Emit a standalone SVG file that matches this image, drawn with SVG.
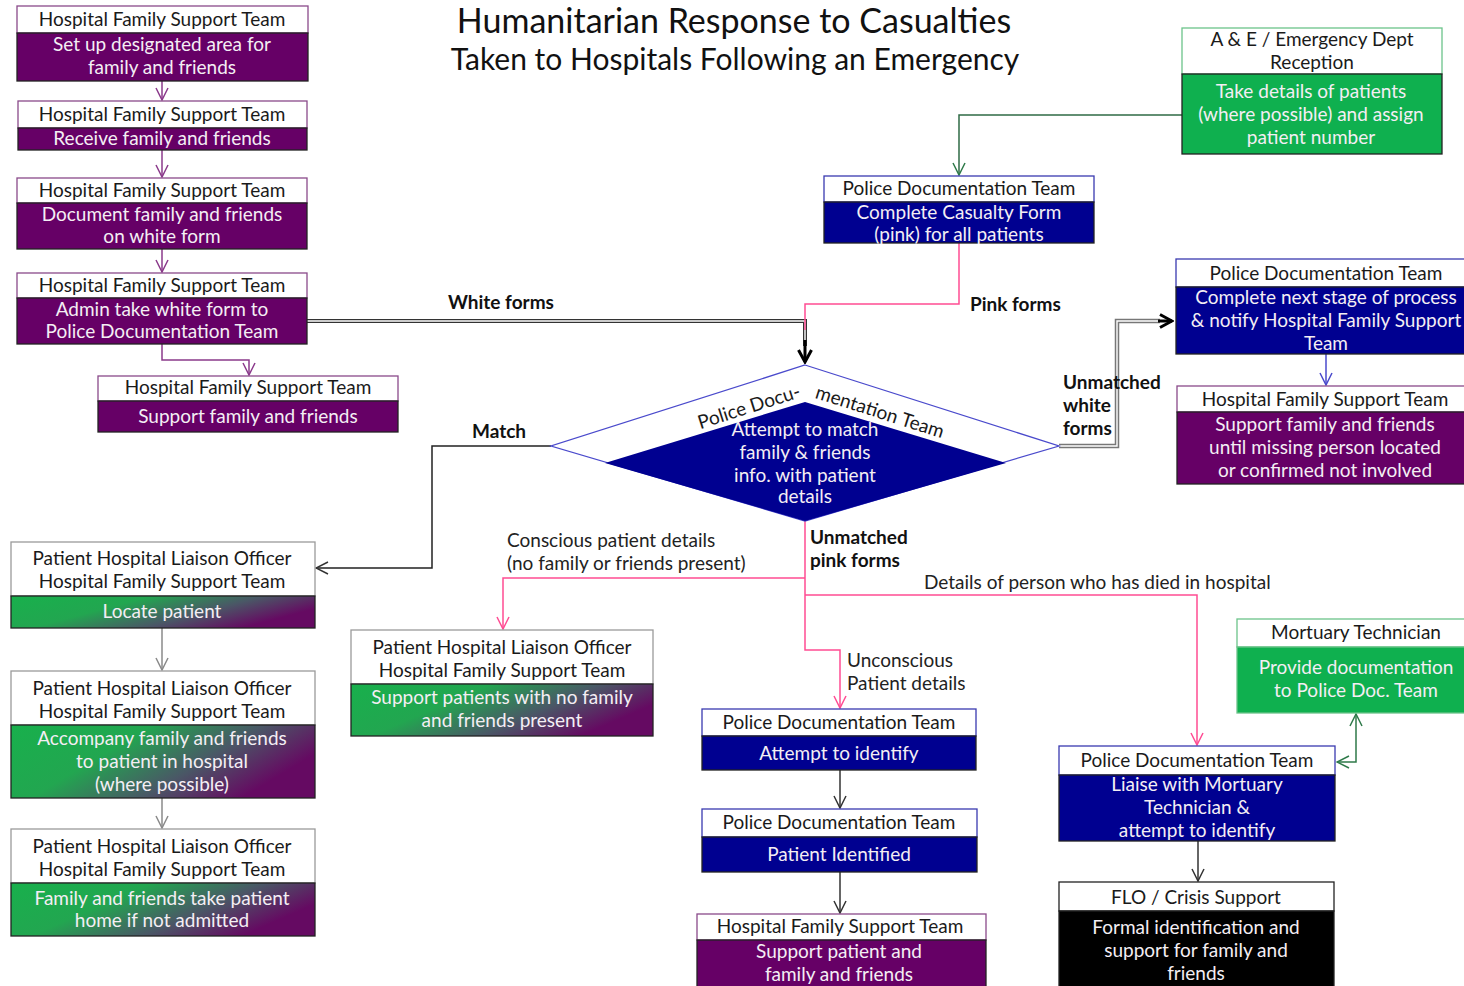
<svg xmlns="http://www.w3.org/2000/svg" width="1464" height="986" viewBox="0 0 1464 986">
  <style>
    text { font-family: Lato, "Liberation Sans", sans-serif; }
    .title { font-size: 34px; fill: #111; text-anchor: middle; }
    .sub { font-size: 30px; fill: #111; text-anchor: middle; }
    .hd { font-size: 19px; fill: #1a1a1a; text-anchor: middle; }
    .bd { font-size: 19px; fill: #f4eef4; text-anchor: middle; }
    .lbl { font-size: 19px; fill: #111; font-weight: bold; }
    .note { font-size: 19px; fill: #222; }
    .hbox { fill: #fff; stroke-width: 1.3; }
    .bbox { stroke: #222; stroke-width: 1.3; }
    .purple { fill: #660066; }
    .navy { fill: #000090; }
    .green { fill: #0fb04f; }
    .black { fill: #000; }
    .grad { fill: url(#gp); }
    .hp { stroke: #8a4a8a; }
    .hb { stroke: #3a3ab0; }
    .hg { stroke: #6cc48a; }
    .hgr { stroke: #9a9a9a; }
    .hk { stroke: #222; }
    .ln { fill: none; stroke-width: 1.5; }
  </style>
  <defs>
    <linearGradient id="gp" x1="0" y1="0" x2="1" y2="0.4">
      <stop offset="0" stop-color="#18b04c"/>
      <stop offset="0.4" stop-color="#22a650"/>
      <stop offset="0.72" stop-color="#4a5766"/>
      <stop offset="1" stop-color="#650a62"/>
    </linearGradient>
    <marker id="aPur" viewBox="0 0 14 14" refX="13" refY="7" markerWidth="14" markerHeight="14" markerUnits="userSpaceOnUse" orient="auto">
      <path d="M1,1 L13,7 L1,13" fill="none" stroke="#8b3a8b" stroke-width="1.5"/>
    </marker>
    <marker id="aPink" viewBox="0 0 14 14" refX="13" refY="7" markerWidth="14" markerHeight="14" markerUnits="userSpaceOnUse" orient="auto">
      <path d="M1,1 L13,7 L1,13" fill="none" stroke="#ff4c93" stroke-width="1.5"/>
    </marker>
    <marker id="aGray" viewBox="0 0 14 14" refX="13" refY="7" markerWidth="14" markerHeight="14" markerUnits="userSpaceOnUse" orient="auto">
      <path d="M1,1 L13,7 L1,13" fill="none" stroke="#8a8a8a" stroke-width="1.5"/>
    </marker>
    <marker id="aDark" viewBox="0 0 14 14" refX="13" refY="7" markerWidth="14" markerHeight="14" markerUnits="userSpaceOnUse" orient="auto">
      <path d="M1,1 L13,7 L1,13" fill="none" stroke="#333" stroke-width="1.5"/>
    </marker>
    <marker id="aBlue" viewBox="0 0 14 14" refX="13" refY="7" markerWidth="14" markerHeight="14" markerUnits="userSpaceOnUse" orient="auto">
      <path d="M1,1 L13,7 L1,13" fill="none" stroke="#4a4acc" stroke-width="1.5"/>
    </marker>
    <marker id="aGreen" viewBox="0 0 14 14" refX="13" refY="7" markerWidth="14" markerHeight="14" markerUnits="userSpaceOnUse" orient="auto-start-reverse">
      <path d="M1,1 L13,7 L1,13" fill="none" stroke="#2f7a4a" stroke-width="1.5"/>
    </marker>
    <marker id="aBold" viewBox="0 0 16 16" refX="14" refY="8" markerWidth="16" markerHeight="16" markerUnits="userSpaceOnUse" orient="auto">
      <path d="M2,1.5 L14,8 L2,14.5" fill="none" stroke="#000" stroke-width="3"/>
    </marker>
  </defs>

  <rect width="1464" height="986" fill="#fff"/>

  <!-- heading -->
  <text class="title" x="734" y="33">Humanitarian Response to Casualties</text>
  <text class="sub" x="735" y="70">Taken to Hospitals Following an Emergency</text>

  <!-- connectors -->
  <g id="connectors">
    <!-- left purple chain -->
    <path class="ln" stroke="#8b3a8b" d="M162,81 V100" marker-end="url(#aPur)"/>
    <path class="ln" stroke="#8b3a8b" d="M162,150 V177" marker-end="url(#aPur)"/>
    <path class="ln" stroke="#8b3a8b" d="M162,249 V272" marker-end="url(#aPur)"/>
    <path class="ln" stroke="#8b3a8b" d="M162,344 V360 H249 V375" marker-end="url(#aPur)"/>

    <!-- white forms (double line) -->
    <path fill="none" stroke="#333" stroke-width="4" d="M307,321 H805 V346"/>
    <path fill="none" stroke="#fff" stroke-width="1.4" d="M307,321 H805 V346"/>
    <!-- pink forms -->
    <path class="ln" stroke="#ff4c93" d="M959,243 V304 H805 V330"/>
    <path fill="none" stroke="#000" stroke-width="3" d="M805,340 V362" marker-end="url(#aBold)"/>

    <!-- A&E to police doc -->
    <path class="ln" stroke="#2f6b45" d="M1182,115 H959 V175" marker-end="url(#aGreen)"/>

    <!-- unmatched white forms (double line) -->
    <path fill="none" stroke="#777" stroke-width="4.5" d="M1059,446 H1117 V321 H1160"/>
    <path fill="none" stroke="#fff" stroke-width="1.4" d="M1059,446 H1117 V321 H1160"/>
    <path fill="none" stroke="#000" stroke-width="3" d="M1158,321 H1172" marker-end="url(#aBold)"/>

    <!-- police doc to HFST right -->
    <path class="ln" stroke="#4a4acc" d="M1326,354 V385" marker-end="url(#aBlue)"/>

    <!-- match -->
    <path class="ln" stroke="#222" d="M551,446 H432 V568 H316" marker-end="url(#aDark)"/>

    <!-- grey chain on the left -->
    <path class="ln" stroke="#8a8a8a" d="M162,628 V670" marker-end="url(#aGray)"/>
    <path class="ln" stroke="#8a8a8a" d="M162,798 V828" marker-end="url(#aGray)"/>

    <!-- unmatched pink forms -->
    <path class="ln" stroke="#ff4c93" d="M805,521 V650 H840 V708" marker-end="url(#aPink)"/>
    <path class="ln" stroke="#ff4c93" d="M805,578 H503 V629" marker-end="url(#aPink)"/>
    <path class="ln" stroke="#ff4c93" d="M805,595 H1197 V745" marker-end="url(#aPink)"/>

    <!-- identify chain -->
    <path class="ln" stroke="#333" d="M840,770 V808" marker-end="url(#aDark)"/>
    <path class="ln" stroke="#333" d="M840,872 V913" marker-end="url(#aDark)"/>

    <!-- mortuary exchange -->
    <path class="ln" stroke="#2f7a4a" d="M1337,762 H1356 V714" marker-start="url(#aGreen)" marker-end="url(#aGreen)"/>
    <path class="ln" stroke="#333" d="M1198,841 V881" marker-end="url(#aDark)"/>
  </g>

  <!-- connector labels -->
  <g id="labels">
    <text class="lbl" x="448" y="309">White forms</text>
    <text class="lbl" x="970" y="311">Pink forms</text>
    <text class="lbl" x="472" y="438">Match</text>
    <text class="lbl" x="1063" y="389">Unmatched</text>
    <text class="lbl" x="1063" y="412">white</text>
    <text class="lbl" x="1063" y="435">forms</text>
    <text class="lbl" x="810" y="544">Unmatched</text>
    <text class="lbl" x="810" y="567">pink forms</text>
    <text class="note" x="507" y="547">Conscious patient details</text>
    <text class="note" x="507" y="570">(no family or friends present)</text>
    <text class="note" x="924" y="589">Details of person who has died in  hospital</text>
    <text class="note" x="847" y="667">Unconscious</text>
    <text class="note" x="847" y="690">Patient details</text>
  </g>

  <!-- left column: Hospital Family Support Team -->
  <g id="hfst-setup">
    <rect class="hbox hp" x="17" y="6" width="291" height="27"/>
    <rect class="bbox purple" x="17" y="33" width="291" height="48"/>
    <text class="hd" x="162" y="26">Hospital Family Support Team</text>
    <text class="bd" x="162" y="51">Set up designated area for</text>
    <text class="bd" x="162" y="74">family and friends</text>
  </g>
  <g id="hfst-receive">
    <rect class="hbox hp" x="18" y="101" width="289" height="27"/>
    <rect class="bbox purple" x="18" y="128" width="289" height="22"/>
    <text class="hd" x="162" y="121">Hospital Family Support Team</text>
    <text class="bd" x="162" y="145">Receive family and friends</text>
  </g>
  <g id="hfst-document">
    <rect class="hbox hp" x="17" y="178" width="290" height="25"/>
    <rect class="bbox purple" x="17" y="203" width="290" height="46"/>
    <text class="hd" x="162" y="197">Hospital Family Support Team</text>
    <text class="bd" x="162" y="221">Document family and friends</text>
    <text class="bd" x="162" y="243">on white form</text>
  </g>
  <g id="hfst-admin">
    <rect class="hbox hp" x="17" y="273" width="290" height="25"/>
    <rect class="bbox purple" x="17" y="298" width="290" height="46"/>
    <text class="hd" x="162" y="292">Hospital Family Support Team</text>
    <text class="bd" x="162" y="316">Admin take white form to</text>
    <text class="bd" x="162" y="338">Police Documentation Team</text>
  </g>
  <g id="hfst-support">
    <rect class="hbox hp" x="98" y="376" width="300" height="25"/>
    <rect class="bbox purple" x="98" y="401" width="300" height="31"/>
    <text class="hd" x="248" y="394">Hospital Family Support Team</text>
    <text class="bd" x="248" y="423">Support family and friends</text>
  </g>

  <!-- top centre / right -->
  <g id="police-casualty">
    <rect class="hbox hb" x="824" y="176" width="270" height="26"/>
    <rect class="bbox navy" x="824" y="202" width="270" height="41"/>
    <text class="hd" x="959" y="195">Police Documentation Team</text>
    <text class="bd" x="959" y="219">Complete Casualty Form</text>
    <text class="bd" x="959" y="241">(pink)  for all patients</text>
  </g>
  <g id="ae-reception">
    <rect class="hbox hg" x="1182" y="28" width="260" height="46"/>
    <rect class="bbox green" x="1182" y="74" width="260" height="80"/>
    <text class="hd" x="1312" y="46">A &amp; E / Emergency Dept</text>
    <text class="hd" x="1312" y="69">Reception</text>
    <text class="bd" x="1311" y="98">Take details of patients</text>
    <text class="bd" x="1311" y="121">(where possible) and assign</text>
    <text class="bd" x="1311" y="144">patient number</text>
  </g>

  <!-- decision -->
  <g id="police-match">
    <polygon points="805,365 1059,446 805,521 551,446" fill="#fff" stroke="#4a4acc" stroke-width="1.3"/>
    <polygon points="805,402 1006,463 805,521 605,463" fill="#000090"/>
    <text class="hd" transform="translate(751,413) rotate(-17.7)">Police Docu-</text>
    <text class="hd" transform="translate(878,418) rotate(17.7)">mentation Team</text>
    <text class="bd" x="805" y="436">Attempt to match</text>
    <text class="bd" x="805" y="459">family &amp; friends</text>
    <text class="bd" x="805" y="482">info. with patient</text>
    <text class="bd" x="805" y="503">details</text>
  </g>

  <!-- right side -->
  <g id="police-next-stage">
    <rect class="hbox hb" x="1176" y="259" width="292" height="28"/>
    <rect class="bbox navy" x="1176" y="287" width="292" height="67"/>
    <text class="hd" x="1326" y="280">Police Documentation Team</text>
    <text class="bd" x="1326" y="304">Complete next stage of process</text>
    <text class="bd" x="1326" y="327">&amp; notify Hospital Family Support</text>
    <text class="bd" x="1326" y="350">Team</text>
  </g>
  <g id="hfst-missing">
    <rect class="hbox hp" x="1177" y="386" width="291" height="26"/>
    <rect class="bbox purple" x="1177" y="412" width="291" height="72"/>
    <text class="hd" x="1325" y="406">Hospital Family Support Team</text>
    <text class="bd" x="1325" y="431">Support family and friends</text>
    <text class="bd" x="1325" y="454">until missing person located</text>
    <text class="bd" x="1325" y="477">or confirmed not involved</text>
  </g>

  <!-- left liaison column -->
  <g id="liaison-locate">
    <rect class="hbox hgr" x="11" y="542" width="304" height="54"/>
    <rect class="bbox grad" x="11" y="596" width="304" height="32"/>
    <text class="hd" x="162" y="565">Patient Hospital Liaison  Officer</text>
    <text class="hd" x="162" y="588">Hospital Family Support Team</text>
    <text class="bd" x="162" y="618">Locate patient</text>
  </g>
  <g id="liaison-accompany">
    <rect class="hbox hgr" x="11" y="671" width="304" height="54"/>
    <rect class="bbox grad" x="11" y="725" width="304" height="73"/>
    <text class="hd" x="162" y="695">Patient Hospital Liaison  Officer</text>
    <text class="hd" x="162" y="718">Hospital Family Support Team</text>
    <text class="bd" x="162" y="745">Accompany family and friends</text>
    <text class="bd" x="162" y="768">to patient in hospital</text>
    <text class="bd" x="162" y="791">(where possible)</text>
  </g>
  <g id="liaison-home">
    <rect class="hbox hgr" x="11" y="829" width="304" height="54"/>
    <rect class="bbox grad" x="11" y="883" width="304" height="53"/>
    <text class="hd" x="162" y="853">Patient Hospital Liaison  Officer</text>
    <text class="hd" x="162" y="876">Hospital Family Support Team</text>
    <text class="bd" x="162" y="905">Family and friends take patient</text>
    <text class="bd" x="162" y="927">home if not admitted</text>
  </g>
  <g id="liaison-no-family">
    <rect class="hbox hgr" x="351" y="630" width="302" height="54"/>
    <rect class="bbox grad" x="351" y="684" width="302" height="52"/>
    <text class="hd" x="502" y="654">Patient Hospital Liaison  Officer</text>
    <text class="hd" x="502" y="677">Hospital Family Support Team</text>
    <text class="bd" x="502" y="704">Support patients with no family</text>
    <text class="bd" x="502" y="727">and friends present</text>
  </g>

  <!-- bottom centre -->
  <g id="police-identify">
    <rect class="hbox hb" x="702" y="709" width="274" height="27"/>
    <rect class="bbox navy" x="702" y="736" width="274" height="34"/>
    <text class="hd" x="839" y="729">Police Documentation Team</text>
    <text class="bd" x="839" y="760">Attempt to identify</text>
  </g>
  <g id="police-identified">
    <rect class="hbox hb" x="702" y="809" width="275" height="28"/>
    <rect class="bbox navy" x="702" y="837" width="275" height="35"/>
    <text class="hd" x="839" y="829">Police Documentation Team</text>
    <text class="bd" x="839" y="861">Patient Identified</text>
  </g>
  <g id="hfst-patient">
    <rect class="hbox hp" x="697" y="914" width="289" height="26"/>
    <rect class="bbox purple" x="697" y="940" width="289" height="50"/>
    <text class="hd" x="840" y="933">Hospital Family Support Team</text>
    <text class="bd" x="839" y="958">Support  patient and</text>
    <text class="bd" x="839" y="981">family and friends</text>
  </g>

  <!-- bottom right -->
  <g id="mortuary">
    <rect class="hbox hg" x="1237" y="619" width="231" height="28"/>
    <rect class="green" x="1237" y="647" width="231" height="66" stroke="#6cc48a" stroke-width="1.3"/>
    <text class="hd" x="1356" y="639">Mortuary Technician</text>
    <text class="bd" x="1356" y="674">Provide documentation</text>
    <text class="bd" x="1356" y="697">to Police Doc. Team</text>
  </g>
  <g id="police-mortuary">
    <rect class="hbox hb" x="1059" y="746" width="276" height="29"/>
    <rect class="bbox navy" x="1059" y="775" width="276" height="66"/>
    <text class="hd" x="1197" y="767">Police Documentation Team</text>
    <text class="bd" x="1197" y="791">Liaise with Mortuary</text>
    <text class="bd" x="1197" y="814">Technician &amp;</text>
    <text class="bd" x="1197" y="837">attempt to identify</text>
  </g>
  <g id="flo-crisis">
    <rect class="hbox hk" x="1059" y="882" width="275" height="29"/>
    <rect class="bbox black" x="1059" y="911" width="275" height="80"/>
    <text class="hd" x="1196" y="904">FLO / Crisis Support</text>
    <text class="bd" x="1196" y="934">Formal identification and</text>
    <text class="bd" x="1196" y="957">support  for family and</text>
    <text class="bd" x="1196" y="980">friends</text>
  </g>
</svg>
